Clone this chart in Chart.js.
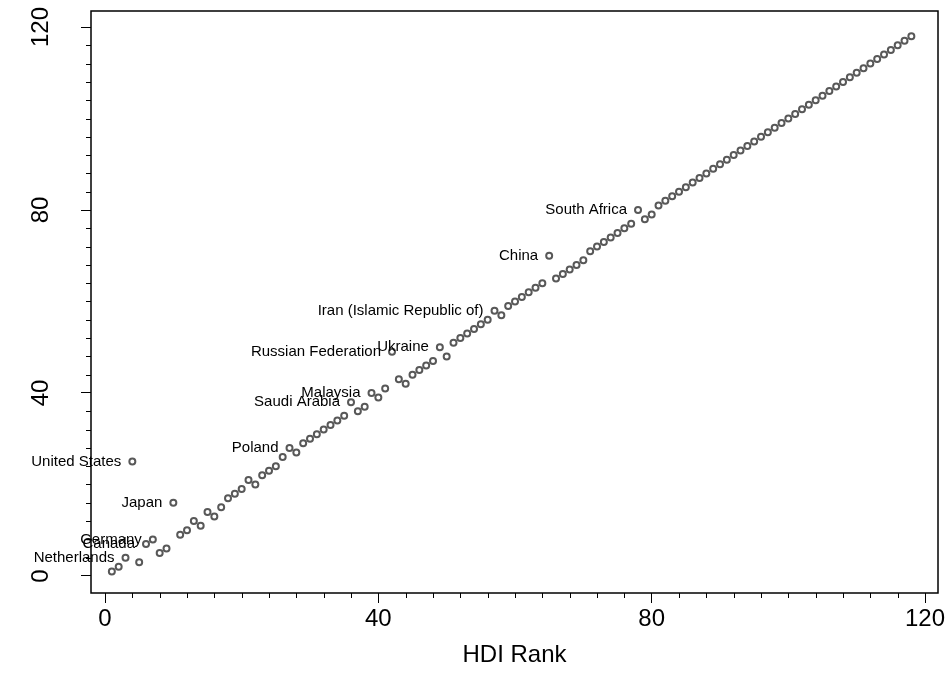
<!DOCTYPE html>
<html>
<head>
<meta charset="utf-8">
<script src="https://cdn.jsdelivr.net/npm/chart.js@4"></script>
<style>
  html, body { margin: 0; padding: 0; background: #fff; }
  canvas { display: block; }
</style>
</head>
<body>
<canvas id="hdiChart" width="952" height="675"></canvas>
<script>
// HDI rank of each country (x axis)
const hdiRank = [
    1, 2, 3, 4, 5, 6, 7, 8, 9, 10,
    11, 12, 13, 14, 15, 16, 17, 18, 19, 20,
    21, 22, 23, 24, 25, 26, 27, 28, 29, 30,
    31, 32, 33, 34, 35, 36, 37, 38, 39, 40,
    41, 42, 43, 44, 45, 46, 47, 48, 49, 50,
    51, 52, 53, 54, 55, 56, 57, 58, 59, 60,
    61, 62, 63, 64, 65, 66, 67, 68, 69, 70,
    71, 72, 73, 74, 75, 76, 77, 78, 79, 80,
    81, 82, 83, 84, 85, 86, 87, 88, 89, 90,
    91, 92, 93, 94, 95, 96, 97, 98, 99, 100,
    101, 102, 103, 104, 105, 106, 107, 108, 109, 110,
    111, 112, 113, 114, 115, 116, 117, 118
];

// the other rank (y axis)
const otherRank = [
    1, 2, 4, 25, 3, 7, 8, 5, 6, 16,
    9, 10, 12, 11, 14, 13, 15, 17, 18, 19,
    21, 20, 22, 23, 24, 26, 28, 27, 29, 30,
    31, 32, 33, 34, 35, 38, 36, 37, 40, 39,
    41, 49, 43, 42, 44, 45, 46, 47, 50, 48,
    51, 52, 53, 54, 55, 56, 58, 57, 59, 60,
    61, 62, 63, 64, 70, 65, 66, 67, 68, 69,
    71, 72, 73, 74, 75, 76, 77, 80, 78, 79,
    81, 82, 83, 84, 85, 86, 87, 88, 89, 90,
    91, 92, 93, 94, 95, 96, 97, 98, 99, 100,
    101, 102, 103, 104, 105, 106, 107, 108, 109, 110,
    111, 112, 113, 114, 115, 116, 117, 118
];

// countries that get a name next to their point
const labelNames = [
    'Netherlands', 'United States', 'Canada', 'Germany', 'Japan', 'Poland',
    'Saudi Arabia', 'Malaysia', 'Russian Federation', 'Ukraine',
    'Iran (Islamic Republic of)', 'China', 'South Africa'
];
const labelRanks = [3, 4, 6, 7, 10, 27, 36, 39, 42, 49, 57, 65, 78];

// tick marks every 4, labels only on the big ones
const xTicks = [0, 4, 8, 12, 16, 20, 24, 28, 32, 36, 40, 44, 48, 52, 56, 60,
    64, 68, 72, 76, 80, 84, 88, 92, 96, 100, 104, 108, 112, 116, 120];
const yTicks = [0, 4, 8, 12, 16, 20, 24, 28, 32, 36, 40, 44, 48, 52, 56, 60,
    64, 68, 72, 76, 80, 84, 88, 92, 96, 100, 104, 108, 112, 116, 120];
const majorTicks = [0, 40, 80, 120];

Chart.defaults.font.family = '"Liberation Sans", Arial, Helvetica, sans-serif';
Chart.defaults.color = '#000';

const isMajor = (v) => majorTicks.includes(v);

// box round the plot, short minor ticks, country names
const framePlugin = {
    id: 'framePlugin',
    afterDatasetsDraw(chart) {
        const { ctx, chartArea: a, scales } = chart;
        ctx.save();

        ctx.strokeStyle = '#000';
        ctx.lineWidth = 1;
        ctx.beginPath();
        xTicks.forEach(v => {
            if (isMajor(v)) return;
            const px = Math.round(scales.x.getPixelForValue(v)) + 0.5;
            ctx.moveTo(px, a.bottom);
            ctx.lineTo(px, a.bottom + 5);
        });
        yTicks.forEach(v => {
            if (isMajor(v)) return;
            const py = Math.round(scales.y.getPixelForValue(v)) + 0.5;
            ctx.moveTo(a.left, py);
            ctx.lineTo(a.left - 5, py);
        });
        ctx.stroke();

        ctx.lineWidth = 1.5;
        ctx.strokeRect(a.left, a.top, a.right - a.left, a.bottom - a.top);

        const meta = chart.getDatasetMeta(0);
        ctx.font = '15px "Liberation Sans", Arial, sans-serif';
        ctx.textAlign = 'right';
        ctx.textBaseline = 'middle';
        ctx.fillStyle = '#000';
        labelRanks.forEach((r, i) => {
            const pt = meta.data[hdiRank.indexOf(r)];
            ctx.fillText(labelNames[i], pt.x - 11, pt.y);
        });
        ctx.restore();
    }
};

const ctx = document.getElementById('hdiChart');

new Chart(ctx, {
    type: 'scatter',
    data: {
        datasets: [{
            data: hdiRank.map((x, i) => ({ x: x, y: otherRank[i] })),
            pointStyle: 'circle',
            pointRadius: 3,
            pointBorderWidth: 2,
            borderColor: '#585858',
            backgroundColor: 'rgba(0,0,0,0)',
            showLine: false
        }]
    },
    options: {
        responsive: false,
        devicePixelRatio: 1,
        animation: false,
        layout: { padding: { left: 0, right: 14, top: 11, bottom: 0 } },
        plugins: {
            legend: { display: false },
            tooltip: { enabled: false }
        },
        scales: {
            x: {
                type: 'linear',
                min: -2.05,
                max: 121.9,
                afterBuildTicks: (s) => { s.ticks = xTicks.map(v => ({ value: v })); },
                afterFit: (s) => { s.height = 82; s.paddingLeft = 0; s.paddingRight = 0; },
                border: { display: false },
                grid: {
                    drawOnChartArea: false,
                    tickLength: 10,
                    tickWidth: 1,
                    tickColor: (c) => (c.tick && isMajor(c.tick.value)) ? '#000' : 'rgba(0,0,0,0)'
                },
                ticks: {
                    autoSkip: false,
                    maxRotation: 0,
                    minRotation: 0,
                    padding: 2,
                    font: { size: 24 },
                    callback: (v) => isMajor(v) ? String(v) : ''
                },
                title: {
                    display: true,
                    text: 'HDI Rank',
                    font: { size: 24 },
                    padding: { top: 0, bottom: 5 }
                }
            },
            y: {
                type: 'linear',
                min: -3.72,
                max: 123.5,
                afterBuildTicks: (s) => { s.ticks = yTicks.map(v => ({ value: v })); },
                afterFit: (s) => { s.width = 91; s.paddingTop = 0; s.paddingBottom = 0; },
                border: { display: false },
                grid: {
                    drawOnChartArea: false,
                    tickLength: 10,
                    tickWidth: 1,
                    tickColor: (c) => (c.tick && isMajor(c.tick.value)) ? '#000' : 'rgba(0,0,0,0)'
                },
                ticks: {
                    autoSkip: false,
                    minRotation: 90,
                    maxRotation: 90,
                    crossAlign: 'center',
                    padding: 20,
                    font: { size: 24 },
                    callback: (v) => isMajor(v) ? String(v) : ''
                }
            }
        }
    },
    plugins: [framePlugin]
});
</script>
</body>
</html>
